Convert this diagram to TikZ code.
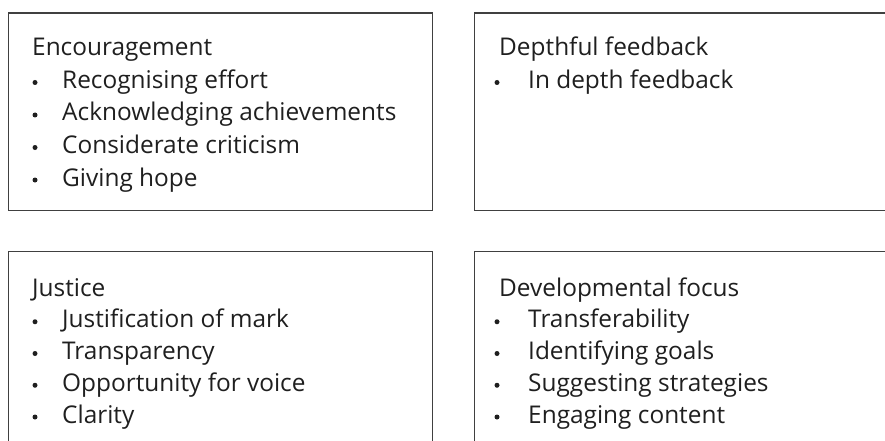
\documentclass[tikz,border=0pt]{standalone}
\usepackage{fontspec}
\setmainfont{Open Sans}
\begin{document}
\begin{tikzpicture}[x=1pt,y=-1pt,
  box/.style={draw=black!75, line width=1.3pt, anchor=north west, inner sep=0pt},
  txt/.style={anchor=base west, inner sep=0pt, font=\fontsize{24.4}{28}\selectfont, text=black!88},
  dot/.style={circle, fill=black!88, inner sep=0pt, minimum size=5pt}]
\clip (0,0) rectangle (885,441);
% boxes
\node[box, minimum width=424pt, minimum height=197.5pt] (b1) at (8,12.5) {};
\node[box, minimum width=430pt, minimum height=197.5pt] (b2) at (474,12.5) {};
\node[box, minimum width=424pt, minimum height=230pt] (b3) at (8,251) {};
\node[box, minimum width=430pt, minimum height=230pt] (b4) at (474,251) {};
% Encouragement
\node[txt] (b1t) at (32,56) {Encouragement};
\foreach \t [count=\i] in {Recognising effort, Acknowledging achievements, Considerate criticism, Giving hope}{
  \node[dot] (b1d\i) at (35,{56+32.5*\i-6}) {};
  \node[txt] (b1i\i) at (62,{56+32.5*\i}) {\t};
}
% Depthful feedback
\node[txt] (b2t) at (499,56) {Depthful feedback};
\node[dot] (b2d1) at (497,{88.5-6}) {};
\node[txt] (b2i1) at (528,88.5) {In depth feedback};
% Justice
\node[txt] (b3t) at (32,296) {Justice};
\foreach \t [count=\i] in {Justification of mark, Transparency, Opportunity for voice, Clarity}{
  \node[dot] (b3d\i) at (35,{296+31.75*\i-6}) {};
  \node[txt] (b3i\i) at (62,{296+31.75*\i}) {\t};
}
% Developmental focus
\node[txt] (b4t) at (499,296) {Developmental focus};
\foreach \t [count=\i] in {Transferability, Identifying goals, Suggesting strategies, Engaging content}{
  \node[dot] (b4d\i) at (497,{296+31.75*\i-6}) {};
  \node[txt] (b4i\i) at (528,{296+31.75*\i}) {\t};
}
\end{tikzpicture}
\end{document}
